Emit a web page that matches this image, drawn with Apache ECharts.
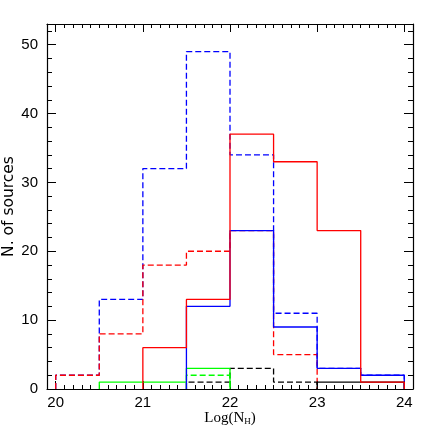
<!DOCTYPE html>
<html><head><meta charset="utf-8">
<script src="https://cdn.jsdelivr.net/npm/echarts@6/dist/echarts.min.js"></script>
<style>html,body{margin:0;padding:0;background:#fff}#c{width:436px;height:436px}</style>
</head><body><div id="c"></div>
<script>
// Bin edges (Log NH) and counts per bin
const edges = [20, 20.5, 21, 21.5, 22, 22.5, 23, 23.5, 24];
const blueDashed  = [2, 13, 32, 49, 34, 11, 3, 2];
const redDashed   = [2, 8, 18, 20, 23, 5, 0, 0];
const blackDashed = [0, 0, 0, 1, 3, 1, 0, 0];
const greenDashed = [0, 0, 0, 2, 0, 0, 0, 0];
const greenSolid  = [0, 1, 1, 3, 0, 0, 0, 0];
const blueSolid   = [0, 0, 0, 12, 23, 9, 3, 2];
const blackSolid  = [0, 0, 0, 0, 0, 0, 1, 1];
const redSolid    = [0, 0, 6, 13, 37, 33, 23, 1];
const xMajor = [20, 21, 22, 23, 24];
const yMajor = [0, 10, 20, 30, 40, 50];

const xMinor = []; for (let k = 199; k <= 241; k++) xMinor.push(k / 10);
const yMinor = []; for (let k = 0; k <= 52; k += 2) yMinor.push(k);

function steps(vals) {
  let i = vals.findIndex(v => v > 0);
  let j = vals.length - 1; while (j >= 0 && vals[j] <= 0) j--;
  const pts = [[edges[i], 0]];
  for (let k = i; k <= j; k++) pts.push([edges[k], vals[k]]);
  pts.push([edges[j + 1], 0]);
  return pts;
}
function ser(vals, color, dashed) {
  return {
    type: 'line', step: 'end', symbol: 'none', silent: true, clip: false,
    data: steps(vals),
    lineStyle: { color: color, width: 1.3, type: dashed ? [6, 3] : 'solid' }
  };
}
const black = '#000';
function xAx(pos, major) {
  return {
    type: 'value', min: 19.9, max: 24.1, position: pos,
    axisLine: { show: major, onZero: false, lineStyle: { color: black, width: 1.2 } },
    axisTick: { show: true, inside: true, length: major ? 8 : 4, customValues: major ? xMajor : xMinor, lineStyle: { color: black, width: 1 } },
    axisLabel: { show: major && pos === 'bottom', customValues: xMajor, color: black, fontSize: 15, fontFamily: 'Liberation Sans', margin: 6 },
    splitLine: { show: false }
  };
}
function yAx(pos, major) {
  return {
    type: 'value', min: 0, max: 53, position: pos,
    axisLine: { show: major, onZero: false, lineStyle: { color: black, width: 1.2 } },
    axisTick: { show: true, inside: true, length: major ? 9 : 5, customValues: major ? yMajor : yMinor, lineStyle: { color: black, width: 1 } },
    axisLabel: { show: major && pos === 'left', customValues: yMajor, color: black, fontSize: 15, fontFamily: 'Liberation Sans', margin: 9 },
    splitLine: { show: false }
  };
}
const xa = [xAx('bottom', true), xAx('bottom', false), xAx('top', true), xAx('top', false)];
xa[0].name = '{a|Log(N}{s|H}{a|)}';
xa[0].nameLocation = 'middle';
xa[0].nameGap = 22;
xa[0].nameMoveOverlap = false;
xa[0].nameTextStyle = { rich: {
  a: { fontFamily: 'Liberation Serif', fontSize: 15, color: black },
  s: { fontFamily: 'Liberation Serif', fontSize: 9, color: black, verticalAlign: 'bottom', padding: [6, 0, 0, 0] }
} };
const ya = [yAx('left', true), yAx('left', false), yAx('right', true), yAx('right', false)];
ya[0].name = 'N. of sources';
ya[0].nameLocation = 'middle';
ya[0].nameGap = 30;
ya[0].nameMoveOverlap = false;
ya[0].nameTextStyle = { fontFamily: 'DejaVu Sans', fontSize: 15.5, color: black };

const chart = echarts.init(document.getElementById('c'));
chart.setOption({
  animation: false,
  backgroundColor: '#fff',
  grid: { left: 47, right: 23, top: 24, bottom: 47, containLabel: false, outerBoundsMode: 'none' },
  xAxis: xa,
  yAxis: ya,
  series: [
    ser(blueDashed, '#0000ff', true),
    ser(redDashed, '#ff0000', true),
    ser(blackDashed, '#000000', true),
    ser(greenDashed, '#00ff00', true),
    ser(greenSolid, '#00ff00', false),
    ser(blueSolid, '#0000ff', false),
    ser(blackSolid, '#000000', false),
    ser(redSolid, '#ff0000', false)
  ]
});
</script></body></html>
